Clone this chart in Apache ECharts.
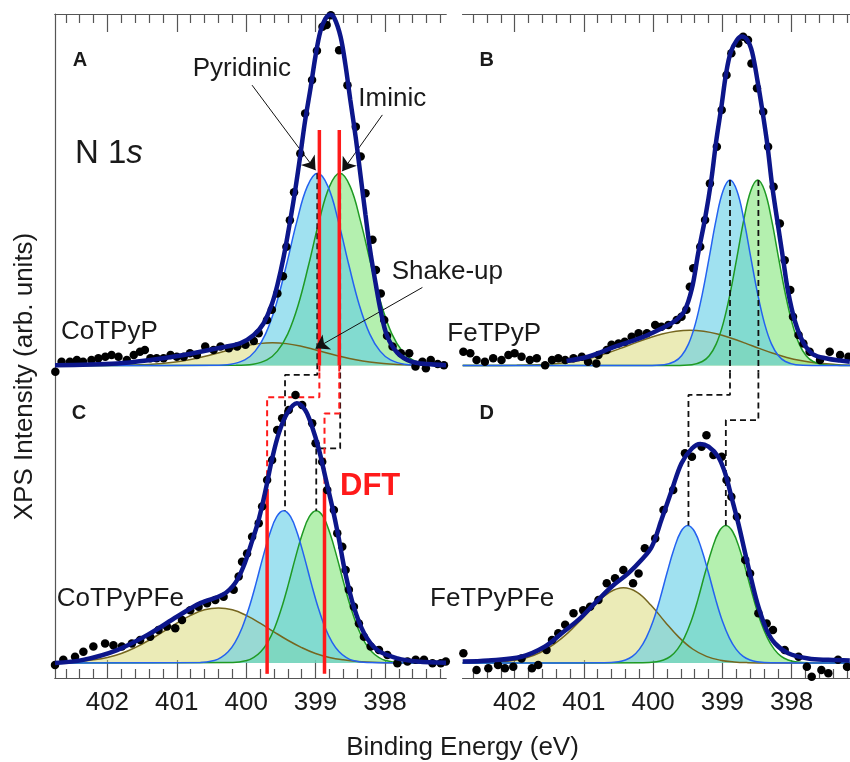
<!DOCTYPE html>
<html><head><meta charset="utf-8">
<script src="https://cdn.jsdelivr.net/npm/echarts@6.0.0/dist/echarts.min.js"></script>
<style>html,body{margin:0;padding:0;background:#fff}#c{width:850px;height:762px}</style>
</head><body><div id="c"></div>
<script>
// ---------- tick labels ----------
const xMajor = [398, 399, 400, 401, 402];
const xMinor = [397.2,397.4,397.6,397.8,398.2,398.4,398.6,398.8,399.2,399.4,399.6,399.8,400.2,400.4,400.6,400.8,401.2,401.4,401.6,401.8,402.2,402.4,402.6];

// ---------- Panel A : CoTPyP ----------
const dataA = [[402.75,-1.8],[402.66,1.1],[402.54,1.1],[402.44,1.6],[402.35,1.1],[402.23,1.6],[402.13,2.1],[402.03,2.5],[401.94,3.0],[401.84,2.5],[401.72,1.6],[401.62,3.0],[401.53,3.9],[401.46,4.4],[401.38,2.1],[401.29,2.1],[401.19,2.1],[401.09,3.0],[401.00,2.5],[400.90,2.5],[400.81,3.5],[400.71,3.0],[400.59,5.4],[400.47,4.4],[400.37,5.4],[400.25,4.9],[400.13,5.4],[400.01,5.9],[399.89,7.0],[399.82,9.2],[399.70,13.0],[399.63,15.9],[399.55,20.6],[399.47,25.5],[399.42,33.9],[399.37,41.5],[399.31,49.5],[399.22,60.6],[399.15,72.0],[399.05,81.6],[398.98,89.9],[398.90,96.8],[398.84,97.3],[398.78,100.1],[398.66,90.1],[398.54,80.1],[398.42,68.2],[398.35,59.7],[398.28,49.2],[398.18,35.9],[398.13,27.3],[398.06,20.6],[398.01,13.0],[397.97,8.5],[397.89,5.4],[397.77,3.5],[397.65,3.5],[397.56,-0.3],[397.46,1.1],[397.41,-0.8],[397.34,1.6],[397.24,0.4],[397.15,0.1]];
const fitA = [[402.755,0.1],[401.86,0.6],[401.38,1.6],[400.90,3.0],[400.42,4.9],[400.08,6.4],[399.89,8.7],[399.75,12],[399.63,17.5],[399.55,23],[399.46,31],[399.36,42],[399.29,50.5],[399.22,60],[399.15,70],[399.07,79.5],[399.00,88.5],[398.93,95.5],[398.86,99],[398.79,100.2],[398.73,99.3],[398.64,94],[398.57,86],[398.50,76],[398.42,65],[398.35,54],[398.28,43],[398.21,32.5],[398.13,23],[398.06,15.5],[397.97,8.5],[397.82,3.6],[397.63,1.2],[397.39,0.4],[397.12,0.1]];
const pyrA = [[402.755,0],[400.47,0.04],[400.22,0.37],[400.02,1.6],[399.87,4.1],[399.72,9.05],[399.57,17.3],[399.42,28.7],[399.27,41.1],[399.12,51.1],[398.97,54.9],[398.82,51.1],[398.67,41.1],[398.52,28.7],[398.37,17.3],[398.22,9.05],[398.07,4.1],[397.92,1.6],[397.72,0.37],[397.47,0.04],[397.12,0]];
const imiA = [[402.755,0],[400.15,0.04],[399.90,0.37],[399.70,1.6],[399.55,4.1],[399.40,9.05],[399.25,17.3],[399.10,28.7],[398.95,41.1],[398.80,51.1],[398.65,54.9],[398.50,51.1],[398.35,41.1],[398.20,28.7],[398.05,17.3],[397.90,9.05],[397.75,4.1],[397.60,1.6],[397.40,0.37],[397.15,0.04],[397.12,0.03]];
const shakeA = [[402.755,0],[402.02,0.03],[401.62,0.14],[401.42,0.29],[401.22,0.55],[401.02,0.98],[400.82,1.62],[400.62,2.48],[400.42,3.5],[400.22,4.6],[400.02,5.57],[399.82,6.25],[399.62,6.5],[399.42,6.25],[399.22,5.57],[399.02,4.6],[398.82,3.5],[398.62,2.48],[398.42,1.62],[398.22,0.98],[398.02,0.55],[397.82,0.29],[397.62,0.14],[397.22,0.03],[397.12,0.02]];

// ---------- Panel B : FeTPyP ----------
const dataB = [[402.74,3.9],[402.64,3.5],[402.55,1.6],[402.43,1.1],[402.31,2.1],[402.19,1.6],[402.09,3.0],[402.00,3.5],[401.90,2.5],[401.78,1.6],[401.68,2.1],[401.56,0.1],[401.46,1.6],[401.37,2.1],[401.27,1.6],[401.15,2.1],[401.03,2.5],[400.94,1.1],[400.82,0.6],[400.79,3.0],[400.67,4.4],[400.60,5.9],[400.50,6.3],[400.41,6.8],[400.31,8.2],[400.21,9.2],[400.09,9.2],[399.97,11.6],[399.88,11.1],[399.78,11.6],[399.66,13],[399.59,13.9],[399.52,15.9],[399.47,22.5],[399.42,27.8],[399.32,33.9],[399.25,41.6],[399.18,52],[399.08,62.5],[399.01,73],[398.94,83],[398.87,89.2],[398.77,92],[398.70,93.9],[398.63,93],[398.58,86.3],[398.50,79.2],[398.41,72.5],[398.34,62.5],[398.26,51.1],[398.17,40.6],[398.10,30.1],[398.02,21.6],[397.98,13.9],[397.90,8.7],[397.83,6.3],[397.74,3.9],[397.59,1.6],[397.45,3.9],[397.30,3.0],[397.18,2.5]];
const fitB = [[401.25,1.3],[400.94,2.5],[400.55,5.4],[400.19,7.8],[399.88,10.6],[399.68,12.8],[399.55,15.5],[399.44,22],[399.35,32],[399.25,42],[399.16,53],[399.09,64],[399.01,74.5],[398.95,83],[398.88,89.5],[398.79,93],[398.72,94],[398.64,93],[398.57,89.5],[398.49,81],[398.42,72.5],[398.35,63],[398.28,51.2],[398.20,40.5],[398.12,30],[398.05,21],[397.95,12.5],[397.83,6.5],[397.69,3.2],[397.49,2],[397.30,1.4],[397.16,1.1]];
const pyrB = [[402.75,0],[400.09,0.02],[399.84,0.24],[399.69,1.15],[399.59,2.8],[399.49,6.1],[399.39,11.9],[399.29,20.4],[399.19,30.9],[399.09,41.7],[398.99,49.9],[398.89,53.0],[398.79,49.9],[398.69,41.7],[398.59,30.9],[398.49,20.4],[398.39,11.9],[398.29,6.1],[398.19,2.8],[398.09,1.15],[397.94,0.24],[397.69,0.02],[397.157,0]];
const imiB = [[402.75,0],[399.69,0.02],[399.44,0.24],[399.29,1.15],[399.19,2.8],[399.09,6.1],[398.99,11.9],[398.89,20.4],[398.79,30.9],[398.69,41.7],[398.59,49.9],[398.49,53.0],[398.39,49.9],[398.29,41.7],[398.19,30.9],[398.09,20.4],[397.99,11.9],[397.89,6.1],[397.79,2.8],[397.69,1.15],[397.54,0.24],[397.29,0.02],[397.157,0]];
const shakeB = [[402.75,0],[401.97,0.05],[401.57,0.3],[401.27,0.8],[401.07,1.4],[400.87,2.3],[400.67,3.5],[400.47,4.9],[400.27,6.4],[400.07,7.8],[399.87,9.0],[399.67,9.8],[399.47,10.1],[399.27,9.8],[399.07,9.0],[398.87,7.8],[398.67,6.4],[398.47,4.9],[398.27,3.5],[398.07,2.3],[397.87,1.4],[397.67,0.8],[397.37,0.3],[397.157,0.1]];

// ---------- Panel C : CoTPyPFe ----------
const dataC = [[402.755,-0.6],[402.635,0.9],[402.466,1.8],[402.346,3.2],[402.202,4.7],[402.033,5.6],[401.913,5.1],[401.792,4.7],[401.647,5.6],[401.528,6.6],[401.383,7.5],[401.263,9.4],[401.142,10.4],[401.022,9.9],[400.925,12.3],[400.806,15.1],[400.686,16.1],[400.564,17.1],[400.445,18],[400.325,18.9],[400.180,20.9],[400.108,24.7],[400.059,28.9],[399.987,31.3],[399.914,36.1],[399.819,39.9],[399.770,44.7],[399.698,52.3],[399.626,58],[399.553,66.6],[399.481,69.9],[399.386,72.3],[399.289,76.6],[399.193,73.7],[399.048,68.5],[399.000,62.8],[398.904,57.5],[398.831,49.4],[398.736,43.7],[398.687,37.1],[398.615,33.2],[398.567,26.6],[398.520,20.9],[398.447,16.1],[398.375,11.3],[398.303,7.5],[398.206,4.7],[398.086,3.7],[397.965,2.3],[397.821,-0.1],[397.676,0.4],[397.557,0.9],[397.437,0.9],[397.315,-0.1],[397.195,-0.1],[397.123,0.4]];
const fitC = [[402.755,0],[402.35,0.9],[401.86,3.7],[401.38,8.5],[401.00,13.2],[400.66,17.1],[400.33,19.6],[400.16,22.8],[400.04,27.5],[399.91,35.1],[399.82,40.9],[399.72,49.4],[399.63,58],[399.53,65.6],[399.41,71.3],[399.27,74.2],[399.15,72.3],[399.05,67.5],[398.95,60.9],[398.86,53.2],[398.76,44.7],[398.67,36.1],[398.57,25.6],[398.45,16.1],[398.30,8.5],[398.11,3.7],[397.82,1.3],[397.53,0.4],[397.12,0.1]];
const pyrC = [[402.755,0],[400.66,0.12],[400.46,0.7],[400.36,1.6],[400.26,3.2],[400.16,5.9],[400.06,10.0],[399.96,15.7],[399.86,22.6],[399.76,30.1],[399.66,36.9],[399.56,41.8],[399.46,43.5],[399.36,41.8],[399.26,36.9],[399.16,30.1],[399.06,22.6],[398.96,15.7],[398.86,10.0],[398.76,5.9],[398.66,3.2],[398.56,1.6],[398.46,0.7],[398.26,0.12],[397.12,0]];
const imiC = [[402.755,0],[400.19,0.12],[399.99,0.7],[399.89,1.6],[399.79,3.2],[399.69,5.9],[399.59,10.0],[399.49,15.7],[399.39,22.6],[399.29,30.1],[399.19,36.9],[399.09,41.8],[398.99,43.5],[398.89,41.8],[398.79,36.9],[398.69,30.1],[398.59,22.6],[398.49,15.7],[398.39,10.0],[398.29,5.9],[398.19,3.2],[398.09,1.6],[397.99,0.7],[397.79,0.12],[397.12,0]];
const shakeC = [[402.755,0.12],[402.40,0.45],[402.20,0.9],[402.00,1.6],[401.80,2.7],[401.60,4.4],[401.40,6.5],[401.20,8.9],[401.00,11.4],[400.80,13.6],[400.60,15.2],[400.40,15.7],[400.20,15.2],[400.00,13.6],[399.80,11.4],[399.60,8.9],[399.40,6.5],[399.20,4.4],[399.00,2.7],[398.80,1.6],[398.60,0.9],[398.40,0.45],[398.10,0.14],[397.80,0.04],[397.12,0]];

// ---------- Panel D : FeTPyPFe ----------
const dataD = [[402.74,2.8],[402.55,-2],[402.38,-1.5],[402.24,-0.6],[402.14,-1.5],[402.02,-1.1],[401.90,1.3],[401.75,-1.5],[401.66,-0.6],[401.54,3.7],[401.46,6.6],[401.37,8.5],[401.27,10.9],[401.15,14.2],[401.01,15.1],[400.91,16.1],[400.79,18],[400.67,22.8],[400.55,24.2],[400.43,26.6],[400.29,22.8],[400.21,25.6],[400.12,32.8],[399.97,35.6],[399.85,43.7],[399.71,49.4],[399.54,59.9],[399.44,58.9],[399.30,61.8],[399.23,65.1],[399.13,59.4],[399.01,58.9],[398.94,52.3],[398.87,47.5],[398.79,41.8],[398.67,29.4],[398.60,25.6],[398.48,14.2],[398.36,11.3],[398.27,9.4],[398.10,3.7],[397.90,1.8],[397.78,-1.1],[397.71,-3.9],[397.57,-2],[397.47,-2.9],[397.33,0.9],[397.20,-1.1]];
const fitD = [[402.75,0.4],[402.38,0.7],[401.90,1.8],[401.56,4.7],[401.32,8.5],[401.08,12.3],[400.84,17.1],[400.60,21.8],[400.36,25.6],[400.17,29.4],[400.02,33.2],[399.88,40.9],[399.73,49.4],[399.59,57.1],[399.44,61.3],[399.32,62.6],[399.20,61.8],[399.06,58.9],[398.96,54.2],[398.87,47.5],[398.77,39.9],[398.67,31.3],[398.58,23.7],[398.48,16.1],[398.36,9.4],[398.24,5.6],[398.05,2.8],[397.76,1.3],[397.47,0.9],[397.16,0.7]];
const pyrD = [[402.75,0],[400.70,0.04],[400.50,0.35],[400.40,0.85],[400.30,1.9],[400.20,3.9],[400.10,7.2],[400.00,12.0],[399.90,18.4],[399.80,25.7],[399.70,32.5],[399.60,37.5],[399.50,39.3],[399.40,37.5],[399.30,32.5],[399.20,25.7],[399.10,18.4],[399.00,12.0],[398.90,7.2],[398.80,3.9],[398.70,1.9],[398.60,0.85],[398.50,0.35],[398.30,0.04],[397.157,0]];
const imiD = [[402.75,0],[400.15,0.04],[399.95,0.35],[399.85,0.85],[399.75,1.9],[399.65,3.9],[399.55,7.2],[399.45,12.0],[399.35,18.4],[399.25,25.7],[399.15,32.5],[399.05,37.5],[398.95,39.3],[398.85,37.5],[398.75,32.5],[398.65,25.7],[398.55,18.4],[398.45,12.0],[398.35,7.2],[398.25,3.9],[398.15,1.9],[398.05,0.85],[397.95,0.35],[397.75,0.04],[397.157,0]];
const shakeD = [[402.75,0.01],[402.43,0.1],[402.23,0.3],[402.03,0.7],[401.83,1.5],[401.63,3.0],[401.43,5.4],[401.23,8.6],[401.03,12.6],[400.83,16.8],[400.63,20.2],[400.43,21.5],[400.23,20.2],[400.03,16.5],[399.83,11.8],[399.63,7.4],[399.43,4.0],[399.23,1.9],[399.03,0.8],[398.83,0.3],[398.63,0.1],[398.33,0.01],[397.157,0]];

// ---------- reference lines (eV, intensity) ----------
const blackA = [[[398.975,54.9],[398.975,-2]], [[398.645,54.9],[398.645,-2]]];
const blackC = [[[398.975,83],[398.975,82.3],[399.44,82.3],[399.44,43.5]], [[398.645,83],[398.645,61.3],[398.99,61.3],[398.99,43.5]]];
const blackB = [[[398.89,53],[398.89,-2]], [[398.48,53],[398.48,-2]]];
const blackD = [[[398.89,83],[398.89,76.6],[399.49,76.6],[399.49,39.3]], [[398.48,83],[398.48,69.4],[398.95,69.4],[398.95,39.3]]];
const dftA = [[[398.945,67.3],[398.945,0]], [[398.658,67.3],[398.658,0]]];
const dftAdash = [[[398.945,0],[398.945,-2]], [[398.658,0],[398.658,-2]]];
const dftCdash = [[[398.945,83],[398.945,75.9],[399.698,75.9],[399.698,49.7]], [[398.658,83],[398.658,71.3],[398.871,71.3],[398.871,49.7]]];
const dftC = [[[399.698,49.7],[399.698,-3.1]], [[398.871,49.7],[398.871,-3.1]]];
const arrowsA = [[[399.915,80.1],[399.00,55.8]], [[398.037,71.6],[398.615,55.5]], [[397.46,22.3],[399.00,4.9]]];

// ---------- styling ----------
const FONT = '"Liberation Sans", Arial, Helvetica, sans-serif';
const INK = '#1a1a1a';
const AXIS = '#555';
const C_BLUE = '#2462f0', F_BLUE = 'rgba(97,205,230,0.6)';
const C_GREEN = '#1f9a24', F_GREEN = 'rgba(105,225,95,0.5)';
const C_OLIVE = '#75661f', F_OLIVE = 'rgba(210,210,95,0.45)';
const C_FIT = '#0c168a';
const RED = '#ff1a1a';

const panels = [
  {grid:{left:55, top:14, width:391, height:358.5}, x:[397.12,402.755], y:[-2,100.43], pos:'top', labels:false, yLine:true},
  {grid:{left:462.7, top:14, width:387.3, height:358.5}, x:[397.157,402.75], y:[-2,100.43], pos:'top', labels:false, yLine:false},
  {grid:{left:55, top:372.5, width:391, height:305.5}, x:[397.12,402.755], y:[-4.2857,83], pos:'bottom', labels:true, yLine:true},
  {grid:{left:462.7, top:372.5, width:387.3, height:305.5}, x:[397.157,402.75], y:[-4.2857,83], pos:'bottom', labels:true, yLine:false}
];

const xAxes = [], yAxes = [];
panels.forEach((p, i) => {
  const base = {gridIndex:i, type:'value', min:p.x[0], max:p.x[1], inverse:true, position:p.pos,
    splitLine:{show:false}, axisLine:{show:true, onZero:false, lineStyle:{color:AXIS, width:1.2}}};
  xAxes.push(Object.assign({}, base, {
    axisTick:{show:true, inside:true, length:18, customValues:xMajor, lineStyle:{color:AXIS, width:1.2}},
    axisLabel:{show:p.labels, customValues:xMajor, fontSize:26, fontFamily:FONT, color:INK, margin:12,
      formatter: v => String(Math.round(v))}
  }));
  xAxes.push(Object.assign({}, base, {
    axisTick:{show:true, inside:true, length:9, customValues:xMinor, lineStyle:{color:AXIS, width:1.2}},
    axisLabel:{show:false}
  }));
  yAxes.push({gridIndex:i, type:'value', min:p.y[0], max:p.y[1], position:'left',
    axisLine:{show:p.yLine, onZero:false, lineStyle:{color:AXIS, width:1.2}},
    axisTick:{show:false}, axisLabel:{show:false}, splitLine:{show:false}});
});

const series = [];
function comp(i, data, line, fill, z) {
  series.push({type:'line', xAxisIndex:2*i, yAxisIndex:i, data, smooth:0.4, symbol:'none', silent:true,
    lineStyle:{color:line, width:1.5}, areaStyle:{color:fill, origin:'auto', opacity:1}, z});
}
function poly(i, data, color, width, dashed, z) {
  series.push({type:'line', xAxisIndex:2*i, yAxisIndex:i, data, symbol:'none', silent:true, clip:false,
    lineStyle:{color, width, type: dashed ? [6,4] : 'solid'}, z});
}
function pts(i, data) {
  series.push({type:'scatter', xAxisIndex:2*i, yAxisIndex:i, data, symbol:'circle', symbolSize:8.5,
    itemStyle:{color:'#000', opacity:1}, clip:false, silent:true, z:5});
}
function fit(i, data, extra) {
  series.push(Object.assign({type:'line', xAxisIndex:2*i, yAxisIndex:i, data, smooth:0.35, symbol:'none', silent:true,
    lineStyle:{color:C_FIT, width:4.5}, z:6}, extra || {}));
}

const comps = [[shakeA, imiA, pyrA], [shakeB, imiB, pyrB], [shakeC, imiC, pyrC], [shakeD, imiD, pyrD]];
comps.forEach((c, i) => {
  comp(i, c[0], C_OLIVE, F_OLIVE, 2);
  comp(i, c[1], C_GREEN, F_GREEN, 2);
  comp(i, c[2], C_BLUE, F_BLUE, 2);
});
blackA.forEach(d => poly(0, d, '#111', 1.8, true, 3));
blackB.forEach(d => poly(1, d, '#111', 1.8, true, 3));
blackC.forEach(d => poly(2, d, '#111', 1.8, true, 3));
blackD.forEach(d => poly(3, d, '#111', 1.8, true, 3));
dftA.forEach(d => poly(0, d, RED, 3.5, false, 4));
dftAdash.forEach(d => poly(0, d, RED, 2, true, 4));
dftCdash.forEach(d => poly(2, d, RED, 2, true, 4));
dftC.forEach(d => poly(2, d, RED, 3.5, false, 4));
pts(0, dataA); pts(1, dataB); pts(2, dataC); pts(3, dataD);
fit(0, fitA, {markLine:{silent:true, animation:false, symbol:['none','arrow'], symbolSize:13,
  label:{show:false}, lineStyle:{color:'#111', width:1, type:'solid', opacity:1},
  data: arrowsA.map(a => [{coord:a[0]}, {coord:a[1]}])}});
fit(1, fitB); fit(2, fitC); fit(3, fitD);

function txt(text, x, y, size, opts) {
  opts = opts || {};
  return {type:'text', x, y, z:100, silent:true, style:{text, fontSize:size, fontFamily:FONT,
    fontWeight:opts.bold ? 'bold' : 'normal', fill:opts.color || INK,
    align:opts.align || 'left', verticalAlign:'middle'}};
}
const graphic = [
  txt('A', 80, 60, 20, {bold:true, align:'center'}),
  txt('B', 486.7, 60, 20, {bold:true, align:'center'}),
  txt('C', 79, 413, 20, {bold:true, align:'center'}),
  txt('D', 486.7, 413, 20, {bold:true, align:'center'}),
  txt('Pyridinic', 192.7, 69, 26),
  txt('Iminic', 358.3, 99, 26),
  txt('Shake-up', 391.7, 271.5, 26),
  txt('CoTPyP', 61, 332, 26),
  txt('FeTPyP', 447.3, 333.5, 26),
  txt('CoTPyPFe', 56.7, 598.5, 26),
  txt('FeTPyPFe', 430, 598.5, 26),
  txt('DFT', 340, 486, 31, {bold:true, color:RED}),
  txt('Binding Energy (eV)', 462.5, 748, 26, {align:'center'}),
  {type:'text', x:75, y:153.5, z:100, silent:true, style:{text:'{a|N 1}{b|s}', verticalAlign:'middle', align:'left',
    rich:{a:{fontSize:33, fontFamily:FONT, fill:INK, color:INK}, b:{fontSize:33, fontFamily:FONT, fontStyle:'italic', fill:INK, color:INK}}}},
  {type:'text', x:25, y:376.5, rotation:Math.PI/2, z:100, silent:true,
    style:{text:'XPS Intensity (arb. units)', fontSize:26, fontFamily:FONT, fill:INK, align:'center', verticalAlign:'middle'}}
];

const chart = echarts.init(document.getElementById('c'), null, {renderer:'canvas'});
chart.setOption({
  animation:false,
  backgroundColor:'#fff',
  grid: panels.map(p => p.grid),
  xAxis: xAxes, yAxis: yAxes, series, graphic
});
</script></body></html>
